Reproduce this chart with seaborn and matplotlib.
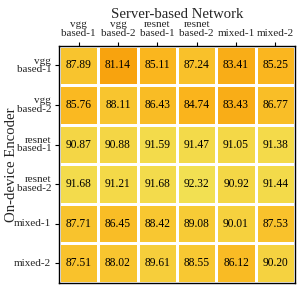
import numpy as np
import pandas as pd
import matplotlib
matplotlib.use("Agg")
import matplotlib.pyplot as plt
import seaborn as sns
from matplotlib.colors import LinearSegmentedColormap

sns.set_style("white")
plt.rcParams['font.family'] = ['Liberation Serif', 'DejaVu Serif']

# Data
server_nets = ['vgg\nbased-1', 'vgg\nbased-2', 'resnet\nbased-1', 'resnet\nbased-2', 'mixed-1', 'mixed-2']
device_encoders = ['vgg\nbased-1', 'vgg\nbased-2', 'resnet\nbased-1', 'resnet\nbased-2', 'mixed-1', 'mixed-2']

row_vgg1 = [87.89, 81.14, 85.11, 87.24, 83.41, 85.25]
row_vgg2 = [85.76, 88.11, 86.43, 84.74, 83.43, 86.77]
row_res1 = [90.87, 90.88, 91.59, 91.47, 91.05, 91.38]
row_res2 = [91.68, 91.21, 91.68, 92.32, 90.92, 91.44]
row_mix1 = [87.71, 86.45, 88.42, 89.08, 90.01, 87.53]
row_mix2 = [87.51, 88.02, 89.61, 88.55, 86.12, 90.20]

df = pd.DataFrame([row_vgg1, row_vgg2, row_res1, row_res2, row_mix1, row_mix2],
                  index=device_encoders, columns=server_nets)

cmap = LinearSegmentedColormap.from_list('yo', ['#f8a20e', '#fab41c', '#f8c832', '#f2e052'])

fig = plt.figure(figsize=(2.99, 2.86), dpi=100)
ax = fig.add_axes([0.197, 0.0105, 0.790, 0.830])
sns.heatmap(df, cmap=cmap, vmin=81.0, vmax=92.4, annot=True, fmt='.2f',
            annot_kws={'fontsize': 8.3, 'color': 'black'},
            linewidths=2, linecolor='white', cbar=False, ax=ax)

ax.xaxis.tick_top()
ax.xaxis.set_label_position('top')
ax.set_xlabel('Server-based Network', fontsize=10.6, labelpad=1.5)
ax.set_ylabel('On-device Encoder', fontsize=10.6)
ax.yaxis.set_label_coords(-0.172, 0.5)
ax.set_xticklabels(server_nets, rotation=0, fontsize=8, linespacing=0.95)
ax.set_yticklabels(device_encoders, rotation=0, fontsize=8, linespacing=0.95, ha='right')
ax.tick_params(axis='both', length=3, width=0.8, color='black', pad=2.5)
ax.tick_params(axis='x', top=True, bottom=False)
ax.tick_params(axis='y', left=True)

for s in ax.spines.values():
    s.set_visible(True)
    s.set_color('black')
    s.set_linewidth(1.0)

plt.savefig('out.png', dpi=100)
